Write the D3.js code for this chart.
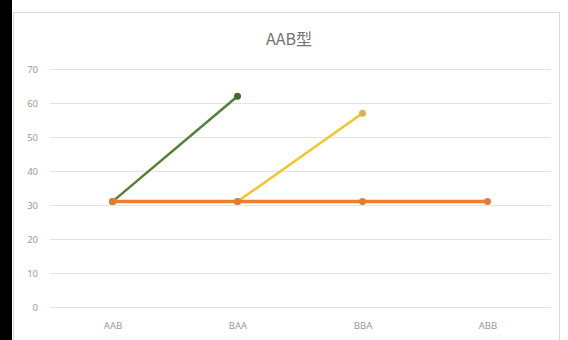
<!DOCTYPE html>
<html>
<head>
<meta charset="utf-8">
<script src="https://cdn.jsdelivr.net/npm/d3@7"></script>
<style>
  html, body { margin: 0; padding: 0; background: #ffffff; }
  svg { display: block; }
</style>
</head>
<body>
<svg id="chart" width="568" height="340"></svg>
<script>
// Chart data
const categories = ["AAB", "BAA", "BBA", "ABB"];
const yTicks = [0, 10, 20, 30, 40, 50, 60, 70];
const titleText = "AAB型";

// Each series lists values per category; null means no point
const greenValues  = [31, 62, null, null];
const yellowValues = [31, 31, 57, null];
const orangeValues = [31, 31, 31, 31];

const series = [
  { name: "green",  values: greenValues,  stroke: "#548235", marker: "#3f6b2a", width: 2.5 },
  { name: "yellow", values: yellowValues, stroke: "#f5c427", marker: "#e0b050", width: 2.5 },
  { name: "orange", values: orangeValues, stroke: "#ed7d31", marker: "#e07b3a", width: 3.5 }
];

const svg = d3.select("#chart");

// Dark strip on the left and the chart frame
svg.append("rect").attr("x", 0).attr("y", 0).attr("width", 12).attr("height", 340).attr("fill", "#000000");
svg.append("rect")
  .attr("x", 13.5).attr("y", 12.5).attr("width", 546).attr("height", 340)
  .attr("fill", "#ffffff").attr("stroke", "#d9d9d9").attr("stroke-width", 1);

const x = d3.scalePoint().domain(categories).range([50, 550]).padding(0.5);
const y = d3.scaleLinear().domain([0, 70]).range([307, 69]);

// Horizontal gridlines
svg.append("g").selectAll("line").data(yTicks).join("line")
  .attr("x1", 50).attr("x2", 551)
  .attr("y1", d => Math.round(y(d)) + 0.5).attr("y2", d => Math.round(y(d)) + 0.5)
  .attr("stroke", "#e3e3e3").attr("stroke-width", 1);

// Y axis labels
const yAxis = d3.axisLeft(y).tickValues(yTicks).tickSize(0).tickPadding(0);
const gy = svg.append("g").attr("transform", "translate(38,0)").call(yAxis);
gy.select(".domain").remove();
gy.selectAll("text")
  .attr("font-family", "'Noto Sans', sans-serif").attr("font-size", 9.5).attr("fill", "#999999");

// X axis labels
const xAxis = d3.axisBottom(x).tickSize(0).tickPadding(0);
const gx = svg.append("g").attr("transform", "translate(0,322)").call(xAxis);
gx.select(".domain").remove();
gx.selectAll("text")
  .attr("font-family", "'Noto Sans', sans-serif").attr("font-size", 9.5).attr("fill", "#999999");

// Title
svg.append("text")
  .attr("x", 289).attr("y", 45)
  .attr("text-anchor", "middle")
  .attr("font-family", "'Noto Sans CJK SC', 'Noto Sans', sans-serif")
  .attr("font-size", 16).attr("fill", "#737373")
  .text(titleText);

// Lines and markers
const line = d3.line()
  .defined(d => d.v !== null)
  .x(d => x(d.c)).y(d => y(d.v));

series.forEach(s => {
  const pts = categories.map((c, i) => ({ c, v: s.values[i] }));
  svg.append("path")
    .datum(pts)
    .attr("d", line)
    .attr("fill", "none")
    .attr("stroke", s.stroke)
    .attr("stroke-width", s.width)
    .attr("stroke-linejoin", "round");
  svg.append("g").selectAll("circle")
    .data(pts.filter(d => d.v !== null)).join("circle")
    .attr("cx", d => x(d.c)).attr("cy", d => y(d.v))
    .attr("r", 3.5)
    .attr("fill", s.marker);
});
</script>
</body>
</html>
